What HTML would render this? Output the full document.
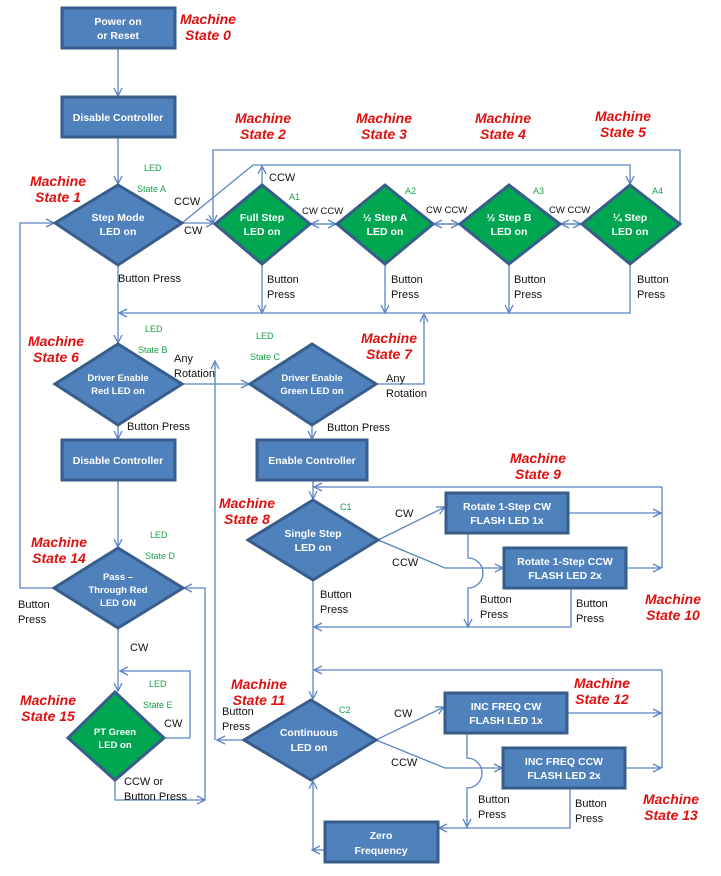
<!DOCTYPE html>
<html><head><meta charset="utf-8"><style>
html,body{margin:0;padding:0;background:#fff}
svg{display:block}
.b{fill:#4f81bd;stroke:#385d8a;stroke-width:3}
.g{fill:#00a650;stroke:#385d8a;stroke-width:3}
.w{fill:#fff;font:bold 10.5px "Liberation Sans",sans-serif;text-anchor:middle}
.l{stroke:#5b84c4;stroke-width:1.3;fill:none}
.r{fill:#e01010;font:italic bold 14px "Liberation Sans",sans-serif;text-anchor:middle}
.gr{fill:#1aa04a;font:9px "Liberation Sans",sans-serif}
.k{fill:#111;font:11px "Liberation Sans",sans-serif}
</style></head><body>
<svg width="721" height="876" viewBox="0 0 721 876">
<defs><marker id="a" markerWidth="10" markerHeight="10" refX="9" refY="5" orient="auto" markerUnits="userSpaceOnUse"><path d="M1,1 L9,5 L1,9" fill="none" stroke="#5b84c4" stroke-width="1.3"/></marker></defs>
<g class="l">
<path d="M118 48V96" marker-end="url(#a)"/>
<path d="M118 137V184" marker-end="url(#a)"/>
<path d="M182 223H214" marker-end="url(#a)"/>
<path d="M182 223L253 165H630V184" marker-end="url(#a)"/>
<path d="M262 185V166" marker-end="url(#a)"/>
<path d="M680 224V150H213V223" marker-end="url(#a)"/>
<path d="M311 224H336" marker-end="url(#a)"/><path d="M336 224H311" marker-end="url(#a)"/>
<path d="M434 224H459" marker-end="url(#a)"/><path d="M459 224H434" marker-end="url(#a)"/>
<path d="M561 224H581" marker-end="url(#a)"/><path d="M581 224H561" marker-end="url(#a)"/>
<path d="M118 265V343" marker-end="url(#a)"/>
<path d="M262 264V313" marker-end="url(#a)"/>
<path d="M385 264V313" marker-end="url(#a)"/>
<path d="M509 264V313" marker-end="url(#a)"/>
<path d="M630 264V313H119" marker-end="url(#a)"/>
<path d="M182 384H249" marker-end="url(#a)"/>
<path d="M376 384H424V314" marker-end="url(#a)"/>
<path d="M215 740V361" marker-end="url(#a)"/>
<path d="M244 740H217" marker-end="url(#a)"/>
<path d="M118 425V439" marker-end="url(#a)"/>
<path d="M312 425V439" marker-end="url(#a)"/>
<path d="M118 480V547" marker-end="url(#a)"/>
<path d="M54 588H20V223H54" marker-end="url(#a)"/>
<path d="M118 628V691" marker-end="url(#a)"/>
<path d="M164 738H190V671H120" marker-end="url(#a)"/>
<path d="M115 780V800H205" marker-end="url(#a)"/>
<path d="M205 800V588H184" marker-end="url(#a)"/>
<path d="M662 487H314" marker-end="url(#a)"/>
<path d="M313 480V499" marker-end="url(#a)"/>
<path d="M662 487V568"/>
<path d="M568 513H661" marker-end="url(#a)"/>
<path d="M626 568H661" marker-end="url(#a)"/>
<path d="M378 540L445 507" marker-end="url(#a)"/>
<path d="M378 540L445 568H503" marker-end="url(#a)"/>
<path d="M468 533V558A10 10 0 0 1 468 588V627" marker-end="url(#a)"/>
<path d="M571 588V627H314" marker-end="url(#a)"/>
<path d="M313 580V699" marker-end="url(#a)"/>
<path d="M662 670H314" marker-end="url(#a)"/>
<path d="M662 670V768"/>
<path d="M567 713H661" marker-end="url(#a)"/>
<path d="M625 768H661" marker-end="url(#a)"/>
<path d="M376 740L444 707" marker-end="url(#a)"/>
<path d="M376 740L445 768H502" marker-end="url(#a)"/>
<path d="M467 733V758A10 10 0 0 1 467 788V827" marker-end="url(#a)"/>
<path d="M570 788V828H439" marker-end="url(#a)"/>
<path d="M325 850H312" marker-end="url(#a)"/>
<path d="M313 850V781" marker-end="url(#a)"/>
</g>
<rect class="b" x="62" y="8" width="113" height="40"/>
<text class="w"><tspan x="118" y="25">Power on</tspan><tspan x="118" y="39">or Reset</tspan></text>
<rect class="b" x="62" y="97" width="113" height="40"/><text class="w" x="118" y="121">Disable Controller</text>
<rect class="b" x="62" y="440" width="113" height="40"/><text class="w" x="118" y="464">Disable Controller</text>
<rect class="b" x="257" y="440" width="110" height="40"/><text class="w" x="312" y="464">Enable Controller</text>
<rect class="b" x="446" y="493" width="122" height="40"/><text class="w"><tspan x="507" y="510">Rotate 1-Step CW</tspan><tspan x="507" y="524">FLASH LED 1x</tspan></text>
<rect class="b" x="504" y="548" width="122" height="40"/><text class="w"><tspan x="565" y="565">Rotate 1-Step CCW</tspan><tspan x="565" y="579">FLASH LED 2x</tspan></text>
<rect class="b" x="445" y="693" width="122" height="40"/><text class="w"><tspan x="506" y="710">INC FREQ CW</tspan><tspan x="506" y="724">FLASH LED 1x</tspan></text>
<rect class="b" x="503" y="748" width="122" height="40"/><text class="w"><tspan x="564" y="765">INC FREQ CCW</tspan><tspan x="564" y="779">FLASH LED 2x</tspan></text>
<rect class="b" x="325" y="822" width="113" height="40"/><text class="w"><tspan x="381" y="839">Zero</tspan><tspan x="381" y="854">Frequency</tspan></text>
<polygon class="b" points="55,223 118,185 182,223 118,265"/><text class="w"><tspan x="118" y="221">Step Mode</tspan><tspan x="118" y="235">LED on</tspan></text>
<polygon class="g" points="215,224 262,185 310,224 262,264"/><text class="w"><tspan x="262" y="221">Full Step</tspan><tspan x="262" y="235">LED on</tspan></text>
<polygon class="g" points="337,224 385,185 433,224 385,264"/><text class="w"><tspan x="385" y="221">½ Step A</tspan><tspan x="385" y="235">LED on</tspan></text>
<polygon class="g" points="460,224 509,185 560,224 509,264"/><text class="w"><tspan x="509" y="221">½ Step B</tspan><tspan x="509" y="235">LED on</tspan></text>
<polygon class="g" points="582,224 630,185 680,224 630,264"/><text class="w"><tspan x="630" y="221">¼ Step</tspan><tspan x="630" y="235">LED on</tspan></text>
<polygon class="b" points="55,384 118,344 182,384 118,425"/><text class="w" style="font-size:9.5px"><tspan x="118" y="381">Driver Enable</tspan><tspan x="118" y="394">Red LED on</tspan></text>
<polygon class="b" points="250,384 312,344 376,384 312,425"/><text class="w" style="font-size:9.5px"><tspan x="312" y="381">Driver Enable</tspan><tspan x="312" y="394">Green LED on</tspan></text>
<polygon class="b" points="54,588 118,548 183,588 118,628"/><text class="w" style="font-size:9.5px"><tspan x="118" y="580">Pass –</tspan><tspan x="118" y="593">Through Red</tspan><tspan x="118" y="606">LED ON</tspan></text>
<polygon class="g" points="68,738 115,692 164,738 115,780"/><text class="w" style="font-size:9.5px"><tspan x="115" y="735">PT Green</tspan><tspan x="115" y="748">LED on</tspan></text>
<polygon class="b" points="248,540 313,500 378,540 313,580"/><text class="w"><tspan x="313" y="537">Single Step</tspan><tspan x="313" y="551">LED on</tspan></text>
<polygon class="b" points="244,740 311,700 376,740 311,780"/><text class="w"><tspan x="309" y="736">Continuous</tspan><tspan x="309" y="751">LED on</tspan></text>
<g class="r">
<text x="208" y="24">Machine</text><text x="208" y="40">State 0</text>
<text x="58" y="186">Machine</text><text x="58" y="202">State 1</text>
<text x="263" y="123">Machine</text><text x="263" y="139">State 2</text>
<text x="384" y="123">Machine</text><text x="384" y="139">State 3</text>
<text x="503" y="123">Machine</text><text x="503" y="139">State 4</text>
<text x="623" y="121">Machine</text><text x="623" y="137">State 5</text>
<text x="56" y="346">Machine</text><text x="56" y="362">State 6</text>
<text x="389" y="343">Machine</text><text x="389" y="359">State 7</text>
<text x="247" y="508">Machine</text><text x="247" y="524">State 8</text>
<text x="538" y="463">Machine</text><text x="538" y="479">State 9</text>
<text x="673" y="604">Machine</text><text x="673" y="620">State 10</text>
<text x="259" y="689">Machine</text><text x="259" y="705">State 11</text>
<text x="602" y="688">Machine</text><text x="602" y="704">State 12</text>
<text x="671" y="804">Machine</text><text x="671" y="820">State 13</text>
<text x="59" y="547">Machine</text><text x="59" y="563">State 14</text>
<text x="48" y="705">Machine</text><text x="48" y="721">State 15</text>
</g>
<g class="gr">
<text x="144" y="171">LED</text><text x="137" y="192">State A</text>
<text x="145" y="332">LED</text><text x="138" y="353">State B</text>
<text x="256" y="339">LED</text><text x="250" y="360">State C</text>
<text x="150" y="538">LED</text><text x="145" y="559">State D</text>
<text x="149" y="687">LED</text><text x="143" y="708">State E</text>
<text x="289" y="200">A1</text><text x="405" y="194">A2</text><text x="533" y="194">A3</text><text x="652" y="194">A4</text>
<text x="340" y="510">C1</text><text x="339" y="713">C2</text>
</g>
<g class="k">
<text x="174" y="205">CCW</text><text x="184" y="234">CW</text><text x="269" y="181">CCW</text>
<text x="302" y="214" style="font-size:9.5px">CW  CCW</text><text x="426" y="213" style="font-size:9.5px">CW  CCW</text><text x="549" y="213" style="font-size:9.5px">CW  CCW</text>
<text x="118" y="282">Button Press</text>
<text x="267" y="283">Button</text><text x="267" y="298">Press</text>
<text x="391" y="283">Button</text><text x="391" y="298">Press</text>
<text x="514" y="283">Button</text><text x="514" y="298">Press</text>
<text x="637" y="283">Button</text><text x="637" y="298">Press</text>
<text x="174" y="362">Any</text><text x="174" y="377">Rotation</text>
<text x="386" y="382">Any</text><text x="386" y="397">Rotation</text>
<text x="127" y="430">Button Press</text><text x="327" y="431">Button Press</text>
<text x="395" y="517">CW</text><text x="392" y="566">CCW</text>
<text x="320" y="598">Button</text><text x="320" y="613">Press</text>
<text x="480" y="603">Button</text><text x="480" y="618">Press</text>
<text x="576" y="607">Button</text><text x="576" y="622">Press</text>
<text x="18" y="608">Button</text><text x="18" y="623">Press</text>
<text x="130" y="651">CW</text><text x="164" y="727">CW</text>
<text x="124" y="785">CCW or</text><text x="124" y="800">Button Press</text>
<text x="222" y="715">Button</text><text x="222" y="730">Press</text>
<text x="394" y="717">CW</text><text x="391" y="766">CCW</text>
<text x="478" y="803">Button</text><text x="478" y="818">Press</text>
<text x="575" y="807">Button</text><text x="575" y="822">Press</text>
</g>
</svg>
</body></html>
